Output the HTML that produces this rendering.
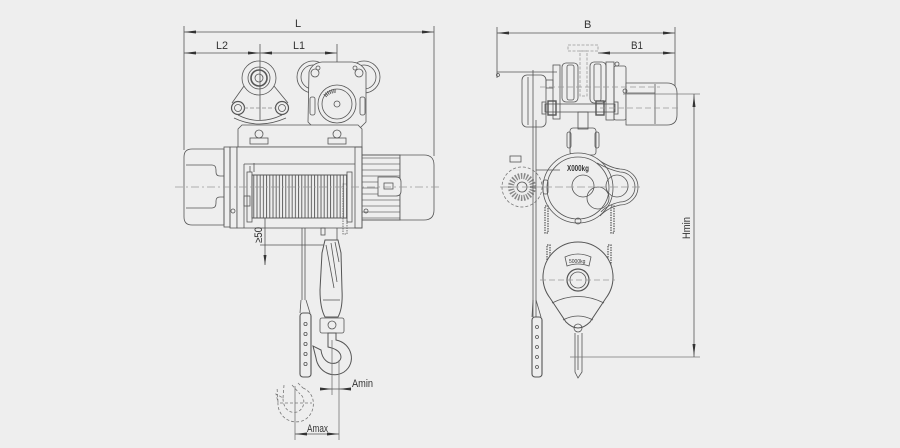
<!DOCTYPE html>
<html><head><meta charset="utf-8"><style>
html,body{margin:0;padding:0;background:#eeeeee;}
svg{display:block;}
text{font-family:"Liberation Sans Narrow","Liberation Sans",sans-serif;fill:#333;}
</style></head><body>
<svg width="900" height="448" viewBox="0 0 900 448" xmlns="http://www.w3.org/2000/svg">
<defs>
<pattern id="drum" width="3.2" height="10" patternUnits="userSpaceOnUse"><line x1="1" y1="0" x2="1" y2="10" stroke="#555" stroke-width="0.9"/></pattern>
<pattern id="fins" width="10" height="6" patternUnits="userSpaceOnUse"><line x1="0" y1="2" x2="10" y2="2" stroke="#666" stroke-width="0.7"/></pattern>
</defs>
<rect width="900" height="448" fill="#eeeeee"/>
<g fill="none" stroke="#555" stroke-width="0.8">

<!-- ===== LEFT VIEW: dimensions ===== -->
<line x1="184" y1="26" x2="184" y2="150"/>
<line x1="434" y1="26" x2="434" y2="156"/>
<line x1="184" y1="32" x2="434" y2="32"/>
<line x1="184" y1="53" x2="337" y2="53"/>
<line x1="260" y1="44" x2="260" y2="120"/>
<line x1="337" y1="44" x2="337" y2="248"/>

<!-- left trolley wheel + plate -->
<circle cx="259" cy="78" r="17"/>
<circle cx="259" cy="78" r="11"/>
<circle cx="259" cy="78" r="8" stroke-width="1.6"/>
<circle cx="259" cy="78" r="4"/>
<path d="M244,86 L232,103 M274,86 L288,103"/>
<path d="M238,115 Q259,126 282,115"/>
<path d="M234,118 Q259,130 286,118"/>
<circle cx="238" cy="108" r="6.5" stroke-width="1.2"/>
<circle cx="238" cy="108" r="3.5"/>
<circle cx="282" cy="108" r="6.5" stroke-width="1.2"/>
<circle cx="282" cy="108" r="3.5"/>
<line x1="244" y1="108" x2="276" y2="108" stroke-dasharray="4 2" stroke="#888"/>

<!-- right trolley -->
<circle cx="313" cy="77" r="16"/>
<circle cx="313" cy="77" r="12"/>
<circle cx="364" cy="77" r="16"/>
<circle cx="364" cy="77" r="12"/>
<path d="M309,72 Q312,63 322,62 H352 Q362,63 366,72 V122 L360,128 H314 L308,122 Z" fill="#eeeeee"/>
<circle cx="315" cy="73" r="4"/>
<circle cx="359" cy="73" r="4"/>
<circle cx="318" cy="68" r="2"/>
<circle cx="355" cy="68" r="2"/>
<circle cx="337" cy="104" r="19" fill="#eeeeee"/>
<circle cx="337" cy="104" r="15"/>
<circle cx="337" cy="104" r="3"/>
<path d="M325,96 A13,13 0 0 1 336,91" stroke-width="4" stroke-dasharray="1 1"/>
<rect x="310" y="97" width="5" height="18" rx="2"/>
<rect x="360" y="97" width="5" height="18" rx="2"/>

<!-- top plate -->
<path d="M242,125 H358 L362,129 V147 H238 V129 Z" fill="#eeeeee"/>
<circle cx="259" cy="134" r="4"/>
<rect x="250" y="138" width="18" height="6"/>
<circle cx="337" cy="134" r="4"/>
<rect x="328" y="138" width="18" height="6"/>

<!-- left motor -->
<path d="M192,149 H224 V225 H192 Q184,225 184,217 V157 Q184,149 192,149 Z" fill="#eeeeee"/>
<path d="M186,165 H212 Q216,165 216,170 V172 Q216,176 220,176 H224"/>
<path d="M186,208 H212 Q216,208 216,203 V201 Q216,197 220,197 H224"/>
<rect x="224" y="147" width="6" height="80"/>
<rect x="230" y="147" width="7" height="81"/>
<circle cx="233" cy="211" r="2"/>

<!-- drum housing -->
<rect x="237" y="147" width="125" height="81" fill="#eeeeee"/>
<line x1="244" y1="164" x2="244" y2="228"/>
<line x1="244" y1="164" x2="355" y2="164"/>
<rect x="252" y="175" width="95" height="43" fill="url(#drum)"/>
<rect x="252" y="175" width="95" height="43"/>
<rect x="247" y="172" width="5" height="50"/>
<rect x="347" y="172" width="5" height="50"/>
<line x1="250" y1="166" x2="250" y2="172"/>
<line x1="254" y1="163" x2="254" y2="172"/>
<rect x="343" y="184" width="4" height="50" stroke-dasharray="1.5 1"/>
<rect x="355" y="147" width="7" height="81"/>
<rect x="244" y="196" width="6" height="10"/>

<!-- right motor -->
<rect x="362" y="155" width="38" height="65" fill="url(#fins)"/>
<path d="M362,155 H400 V220 H362"/>
<path d="M400,155 H424 Q434,155 434,165 V210 Q434,220 424,220 H400 Z" fill="#eeeeee"/>
<path d="M378,177 H396 Q401,177 401,182 V191 Q401,196 396,196 H378 Z" fill="#eeeeee"/>
<rect x="384" y="183" width="9" height="6"/>
<circle cx="366" cy="211" r="2"/>

<!-- centerline -->
<line x1="175" y1="187" x2="442" y2="187" stroke="#999" stroke-dasharray="8 3 2 3"/>

<!-- below body -->
<line x1="265" y1="218" x2="265" y2="265"/>
<line x1="260" y1="245" x2="327" y2="245"/>
<rect x="321" y="228" width="4" height="7"/>
<line x1="302" y1="228" x2="302" y2="300"/>
<line x1="305" y1="228" x2="305" y2="300"/>
<path d="M301,300 L300,313 M306,300 L310,313"/>
<rect x="300" y="313" width="11" height="64" rx="3" stroke-width="1.1"/>
<circle cx="305.5" cy="324" r="1.6"/><circle cx="305.5" cy="334" r="1.6"/><circle cx="305.5" cy="344" r="1.6"/><circle cx="305.5" cy="354" r="1.6"/><circle cx="305.5" cy="364" r="1.6"/>

<!-- hook block -->
<path d="M325,240 L322,253 L320,290 Q320,308 325,317 H338 Q343,308 342,290 L341,253 L338,240 Z" fill="#eeeeee" stroke-width="1"/>
<path d="M326,245 L334,288 M331,243 L337,282 M335,242 L339,262"/>
<line x1="323" y1="300" x2="340" y2="300"/>
<rect x="320" y="318" width="24" height="15" rx="2" fill="#eeeeee"/>
<circle cx="332" cy="325" r="4"/>
<path d="M328,333 H336 V340 C352,343 357,363 344,372 C333,379 318,372 316,358 L313,346 L321,350 C322,359 328,365 336,363 C344,360 343,350 328,347 Z" fill="#eeeeee" stroke-width="1"/>
<line x1="332" y1="340" x2="332" y2="395" stroke="#777"/>
<line x1="339" y1="360" x2="339" y2="440" stroke="#777"/>
<line x1="320" y1="389" x2="350" y2="389"/>
<line x1="295" y1="386" x2="295" y2="440" stroke="#777"/>
<line x1="295" y1="434" x2="339" y2="434"/>
<!-- dashed hook (Amax) -->
<g stroke="#777" stroke-dasharray="3 2">
<path d="M303,388 C318,394 316,416 302,421 C289,425 277,415 278,402 L276,394 L283,398 C283,408 289,414 297,412 C305,409 306,398 300,394"/>
<path d="M298,383 L303,388 M292,385 L300,394"/>
<path d="M283,398 L284,385 M278,402 L277,387"/>
<line x1="280" y1="403" x2="312" y2="403"/>
</g>

<!-- ===== RIGHT VIEW ===== -->
<line x1="497" y1="27" x2="497" y2="78"/>
<line x1="675" y1="27" x2="675" y2="120"/>
<line x1="497" y1="33" x2="675" y2="33"/>
<line x1="598" y1="53" x2="675" y2="53"/>
<line x1="497" y1="72" x2="557" y2="72"/>
<circle cx="498" cy="75" r="1.5"/>

<!-- T beam -->
<g stroke="#999" stroke-dasharray="3 1.5">
<rect x="568" y="45" width="30" height="6"/>
<rect x="580" y="51" width="7" height="45"/>
</g>
<!-- wheels -->
<rect x="562" y="63" width="16" height="39" rx="4"/>
<rect x="567" y="65" width="7" height="35" rx="2"/>
<rect x="590" y="62" width="16" height="41" rx="4"/>
<rect x="594" y="64" width="7" height="37" rx="2"/>
<!-- brake cover -->
<rect x="522" y="75" width="24" height="52" rx="5" fill="#eeeeee"/>
<line x1="528" y1="77" x2="528" y2="125"/>
<rect x="546" y="80" width="7" height="8"/>
<!-- plates -->
<rect x="553" y="65" width="7" height="54"/>
<rect x="606" y="62" width="8" height="58"/>
<rect x="614" y="66" width="12" height="54" rx="2"/>
<circle cx="617" cy="64" r="2"/>
<!-- motor -->
<path d="M626,83 H667 Q677,83 677,93 V115 Q677,125 667,125 H626 Z" fill="#eeeeee"/>
<line x1="655" y1="84" x2="655" y2="124"/>
<line x1="626" y1="93" x2="655" y2="93"/>
<circle cx="625" cy="91" r="2"/>
<!-- axle -->
<rect x="545" y="104" width="70" height="8"/>
<rect x="548" y="101" width="8" height="14" stroke-width="1.4"/>
<rect x="596" y="101" width="8" height="14" stroke-width="1.4"/>
<rect x="542" y="102" width="4" height="12"/>
<rect x="614" y="102" width="4" height="12"/>
<line x1="540" y1="87" x2="660" y2="87" stroke="#999" stroke-dasharray="6 3"/>
<line x1="600" y1="108" x2="680" y2="108" stroke="#999" stroke-dasharray="6 3"/>
<!-- hanger -->
<rect x="578" y="112" width="10" height="17"/>
<rect x="570" y="128" width="26" height="27" rx="3"/>
<rect x="567" y="132" width="4" height="16" rx="2"/>
<rect x="595" y="132" width="4" height="16" rx="2"/>
<!-- body -->
<path d="M597,159 Q610,168 620,169 A18,18 0 0 1 620,205 Q607,208 600,216" fill="#eeeeee"/>
<circle cx="578" cy="188" r="35" fill="#eeeeee"/>
<circle cx="578" cy="188" r="31"/>
<path d="M597,163 Q610,170 620,172 A15,15 0 0 1 620,202 Q607,205 601,212"/>
<circle cx="583" cy="186" r="11"/>
<circle cx="617" cy="186" r="11"/>
<circle cx="598" cy="198" r="11"/>
<circle cx="578" cy="221" r="3"/>
<rect x="543" y="180" width="5" height="14" rx="2"/>
<!-- left gear -->
<circle cx="522" cy="187" r="20" stroke="#777" stroke-dasharray="3 2"/>
<circle cx="522" cy="187" r="11" stroke-width="6" stroke="#888" stroke-dasharray="1.4 1.4"/>
<circle cx="522" cy="187" r="5"/>
<rect x="510" y="156" width="11" height="6"/>
<line x1="533" y1="70" x2="533" y2="317"/>
<line x1="536" y1="120" x2="536" y2="317"/>
<line x1="536" y1="170" x2="560" y2="170"/>
<!-- chains -->
<g stroke-dasharray="1.5 1" stroke-width="1.2">
<rect x="545" y="206" width="3" height="27"/>
<rect x="611" y="206" width="3" height="27"/>
<rect x="547" y="245" width="3" height="22"/>
<rect x="608" y="245" width="3" height="22"/>
</g>
<line x1="500" y1="187" x2="640" y2="187" stroke="#999" stroke-dasharray="8 3"/>
<!-- hook block right -->
<path d="M550,298 A35,35 0 1 1 606,298 Q598,310 590,322 Q578,334 566,322 Q558,310 550,298 Z" fill="#eeeeee" stroke-width="1"/>
<path d="M552,303 Q578,290 604,303"/>
<path d="M563,320 Q578,312 593,320"/>
<path d="M565,257 Q578,251 591,257 L589,266 Q578,262 567,266 Z"/>
<text x="569" y="263" font-size="5" fill="#333" stroke="none">5000kg</text>
<circle cx="578" cy="280" r="11" stroke-width="1.2"/>
<circle cx="578" cy="280" r="8"/>
<line x1="540" y1="280" x2="615" y2="280" stroke="#999" stroke-dasharray="6 3"/>
<circle cx="578" cy="328" r="4"/>
<path d="M575,333 V372 L578,378 L582,372 V333"/>
<line x1="578" y1="335" x2="578" y2="370"/>
<!-- pendant right -->
<path d="M533,300 L532,317 M536,300 L541,317"/>
<rect x="532" y="317" width="10" height="60" rx="3" stroke-width="1.1"/>
<circle cx="537" cy="327" r="1.5"/><circle cx="537" cy="337" r="1.5"/><circle cx="537" cy="347" r="1.5"/><circle cx="537" cy="357" r="1.5"/><circle cx="537" cy="367" r="1.5"/>
<!-- Hmin -->
<line x1="623" y1="94" x2="700" y2="94" stroke="#777"/>
<line x1="570" y1="357" x2="700" y2="357" stroke="#777"/>
<line x1="694" y1="94" x2="694" y2="357"/>
</g>

<!-- arrowheads -->
<g fill="#333" stroke="none">
<polygon points="184,32 196,30.5 196,33.5"/>
<polygon points="434,32 422,30.5 422,33.5"/>
<polygon points="184,53 196,51.5 196,54.5"/>
<polygon points="260,53 248,51.5 248,54.5"/>
<polygon points="260,53 272,51.5 272,54.5"/>
<polygon points="337,53 325,51.5 325,54.5"/>
<polygon points="265,255 263.5,265 266.5,265" transform="rotate(180 265 260)"/>
<polygon points="332,389 320,387.5 320,390.5"/>
<polygon points="339,389 351,387.5 351,390.5"/>
<polygon points="295,434 307,432.5 307,435.5"/>
<polygon points="339,434 327,432.5 327,435.5"/>
<polygon points="497,33 509,31.5 509,34.5"/>
<polygon points="675,33 663,31.5 663,34.5"/>
<polygon points="598,53 610,51.5 610,54.5"/>
<polygon points="675,53 663,51.5 663,54.5"/>
<polygon points="694,95 692.5,107 695.5,107"/>
<polygon points="694,356 692.5,344 695.5,344"/>
</g>

<!-- labels -->
<g stroke="none" font-size="11">
<text x="295" y="27">L</text>
<text x="216" y="49" textLength="12" lengthAdjust="spacingAndGlyphs">L2</text>
<text x="293" y="49" textLength="12" lengthAdjust="spacingAndGlyphs">L1</text>
<text x="584" y="28">B</text>
<text x="631" y="49" textLength="12" lengthAdjust="spacingAndGlyphs">B1</text>
<text x="352" y="387" textLength="21" lengthAdjust="spacingAndGlyphs">Amin</text>
<text x="307" y="432" textLength="21" lengthAdjust="spacingAndGlyphs">Amax</text>
<text x="0" y="0" transform="translate(262,243) rotate(-90)" textLength="16" lengthAdjust="spacingAndGlyphs">≥50</text>
<text x="0" y="0" transform="translate(690,239) rotate(-90)" textLength="22" lengthAdjust="spacingAndGlyphs">Hmin</text>
<text x="567" y="171" font-size="8" font-weight="bold" textLength="22" lengthAdjust="spacingAndGlyphs">X000kg</text>
</g>
</svg>
</body></html>
